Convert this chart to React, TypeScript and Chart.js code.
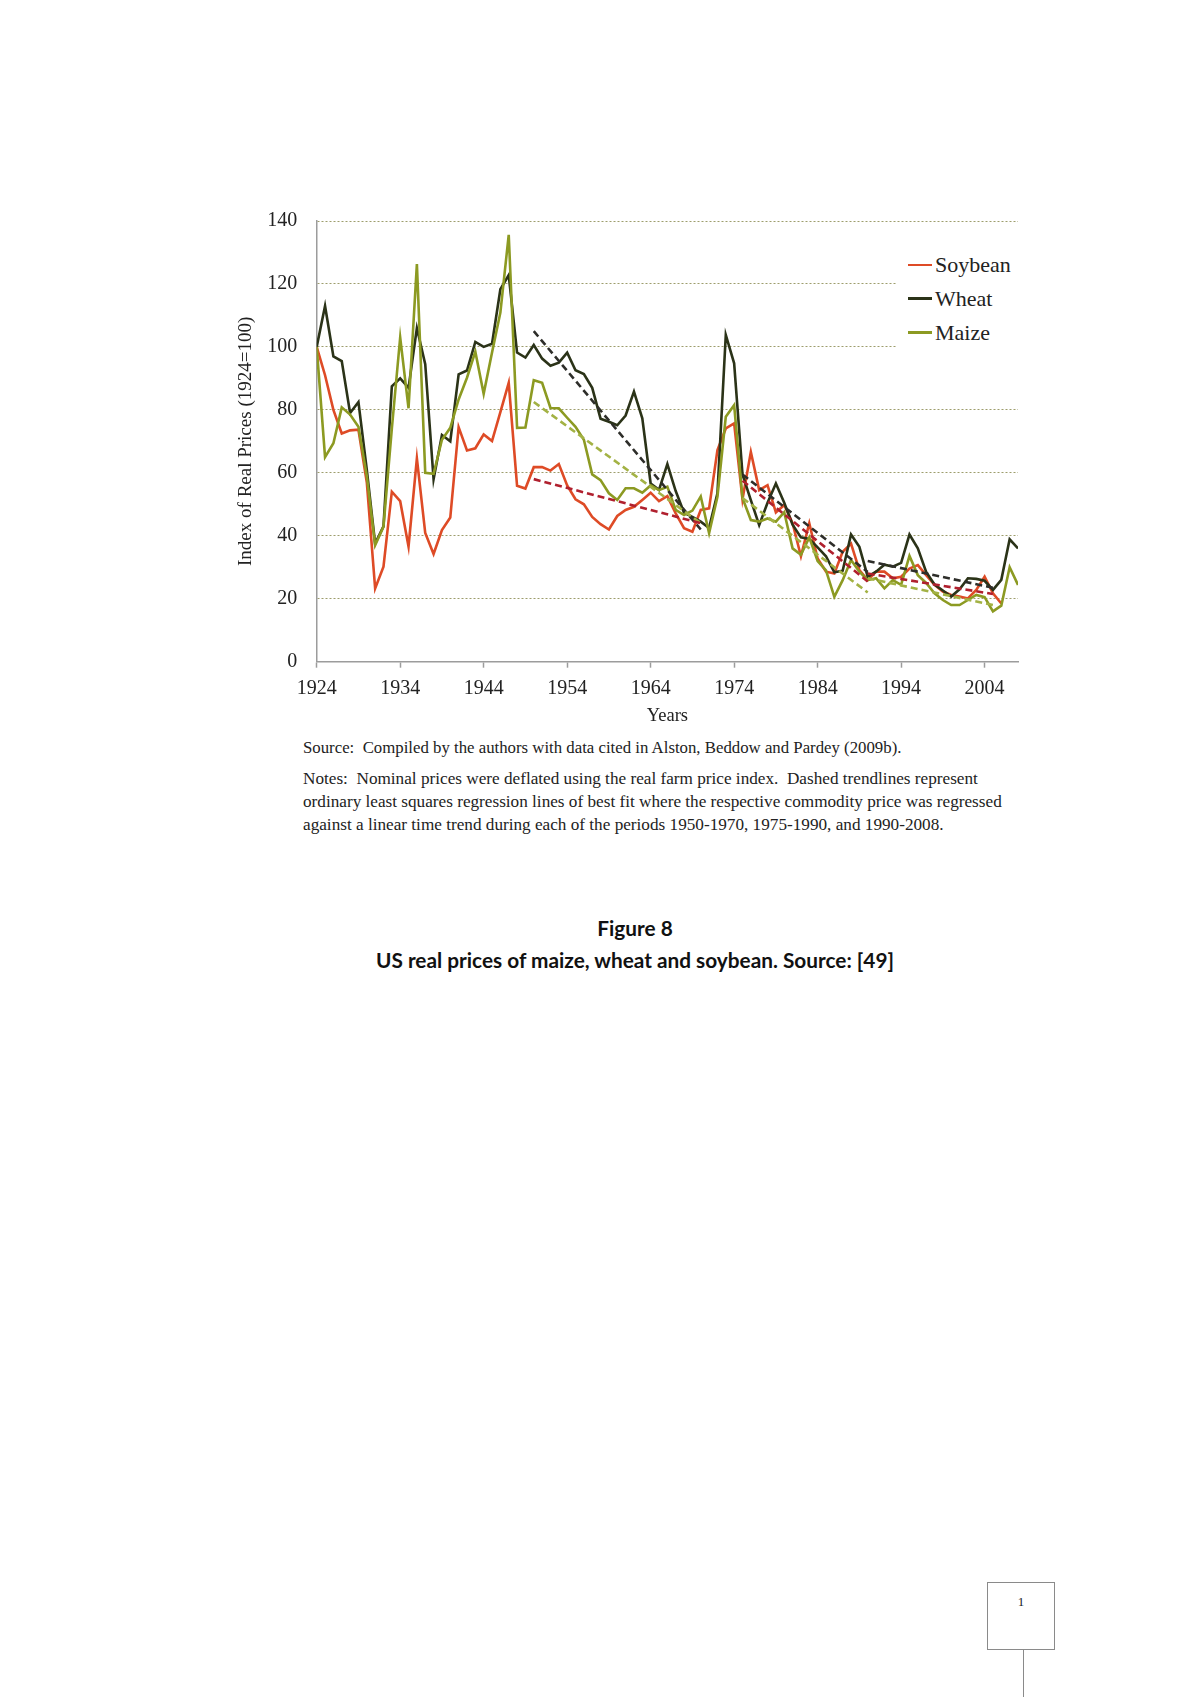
import React, { useEffect, useRef } from 'react';
import { Chart, registerables } from 'chart.js';

Chart.register(...registerables);

// ---- Data ----
const YEARS = [
  1924, 1925, 1926, 1927, 1928, 1929, 1930, 1931, 1932, 1933,
  1934, 1935, 1936, 1937, 1938, 1939, 1940, 1941, 1942, 1943,
  1944, 1945, 1946, 1947, 1948, 1949, 1950, 1951, 1952, 1953,
  1954, 1955, 1956, 1957, 1958, 1959, 1960, 1961, 1962, 1963,
  1964, 1965, 1966, 1967, 1968, 1969, 1970, 1971, 1972, 1973,
  1974, 1975, 1976, 1977, 1978, 1979, 1980, 1981, 1982, 1983,
  1984, 1985, 1986, 1987, 1988, 1989, 1990, 1991, 1992, 1993,
  1994, 1995, 1996, 1997, 1998, 1999, 2000, 2001, 2002, 2003,
  2004, 2005, 2006, 2007, 2008,
];

const SOYBEAN = [
  100, 91, 80, 72.5, 73.5, 73.7, 57, 23.3, 30.2, 54,
  51, 36.6, 64.6, 40.9, 34.2, 41.8, 45.8, 74.5, 67.1, 67.8,
  72.2, 70.1, 79.3, 88.6, 55.9, 55, 61.8, 61.8, 60.7, 62.8,
  56, 51.6, 50, 46, 43.7, 42, 46.3, 48.2, 49.2, 51.4,
  53.7, 51, 52.6, 47.1, 42.4, 41.3, 48.2, 48.7, 67.2, 74.1,
  75.7, 51.6, 66.6, 54.5, 56.1, 47.4, 49.8, 44, 33.5, 44,
  32.8, 28.6, 28, 34.9, 37.5, 29.1, 25.9, 28.6, 28.6, 26.5,
  27, 29.6, 30.7, 27.5, 24.4, 22.3, 21.2, 20.7, 20.1, 22.8,
  27, 21.7, 18.5, null, null,
];

const WHEAT = [
  100, 113, 97, 95.5, 79, 82.5, 61, 37.5, 43, 87.5,
  90, 87, 106, 94.5, 58, 72, 70, 91.3, 92.5, 101.6,
  100, 101, 118.3, 122.8, 98.2, 96.6, 100.6, 96.3, 94, 95,
  98.2, 92.6, 91.4, 87, 77.2, 76.2, 75.1, 78.2, 85.8, 77.3,
  56.6, 54.6, 62.8, 54.2, 47.3, 46, 44.5, 42.5, 53.5, 103.8,
  94.8, 59.5, 51.3, 43.4, 50.5, 56.6, 50.5, 43.5, 39.5, 39,
  36.3, 33.5, 28.4, 28.9, 40.4, 36.5, 27, 28.6, 30.8, 30.2,
  31.4, 40.4, 36, 28.5, 24.5, 22.6, 20.7, 23, 26.5, 26.3,
  25.7, 22.8, 26, 38.9, 36,
];

const MAIZE = [
  100, 65, 69.4, 80.8, 78.5, 74.6, 59, 37, 42.9, 74,
  103, 80.5, 126.3, 60, 59.7, 70.5, 74.3, 83.3, 90.2, 98.5,
  85.1, 98.2, 110.9, 135.6, 74.3, 74.4, 89.4, 88.6, 80.6, 80.5,
  77.5, 74.6, 70.5, 59.5, 57.7, 53.5, 51.4, 55.1, 55.1, 53.7,
  56, 54.5, 55.6, 48.2, 46.6, 48, 52.5, 40.8, 52.4, 77.8,
  81.5, 52, 45, 44.5, 45.5, 44.5, 47.5, 36, 34, 39.5,
  32, 29, 20.6, 25.9, 32.3, 28.6, 25.9, 26.5, 23.3, 25.9,
  24.4, 33.6, 27.5, 25, 21.7, 19.6, 18, 18, 19.6, 21.2,
  20.5, 16, 17.8, 30, 24.4,
];

// Dashed OLS trendlines: [start, end] values for each period
const TREND_PERIODS = [
  [1950, 1970],
  [1975, 1990],
  [1990, 2005],
];
const SOYBEAN_TREND = [
  [58, 44],
  [57.5, 25.5],
  [28, 21.5],
];
const WHEAT_TREND = [
  [105, 42],
  [59.5, 28.5],
  [32, 23.5],
];
const MAIZE_TREND = [
  [82.5, 44],
  [52, 22],
  [26.5, 18],
];

const X_TICKS = [1924, 1934, 1944, 1954, 1964, 1974, 1984, 1994, 2004];
const Y_TICKS = [0, 20, 40, 60, 80, 100, 120, 140];

const SERIES_NAMES = ['Soybean', 'Wheat', 'Maize'];
const SERIES_COLORS = ['#de4b26', '#2b3318', '#8c9a22'];
const TREND_COLORS = ['#b0202e', '#2e2e2a', '#a3b244'];

const SERIF = "'Liberation Serif', 'Times New Roman', serif";

export default function App() {
  const canvasRef = useRef<HTMLCanvasElement | null>(null);

  useEffect(() => {
    const canvas = canvasRef.current;
    if (!canvas) return;

    const series = (vals: (number | null)[]) => YEARS.map((x, i) => ({ x, y: vals[i] }));
    const trend = (ends: number[][]) => {
      const pts: { x: number; y: number | null }[] = [];
      TREND_PERIODS.forEach(([a, b], i) => {
        if (i > 0) pts.push({ x: a, y: null });
        pts.push({ x: a, y: ends[i][0] });
        pts.push({ x: b, y: ends[i][1] });
      });
      return pts;
    };

    const axisGray = '#9c9c9c';
    const textColor = '#222222';

    const chart = new Chart(canvas, {
      type: 'line',
      data: {
        datasets: [
          {
            label: SERIES_NAMES[0] + ' trend',
            data: trend(SOYBEAN_TREND),
            borderColor: TREND_COLORS[0],
            borderWidth: 2.6,
            borderDash: [7, 4],
            spanGaps: false,
            order: 0,
          },
          {
            label: SERIES_NAMES[2] + ' trend',
            data: trend(MAIZE_TREND),
            borderColor: TREND_COLORS[2],
            borderWidth: 2.6,
            borderDash: [7, 4],
            spanGaps: false,
            order: 0,
          },
          {
            label: SERIES_NAMES[1] + ' trend',
            data: trend(WHEAT_TREND),
            borderColor: TREND_COLORS[1],
            borderWidth: 2.6,
            borderDash: [7, 4],
            spanGaps: false,
            order: 0,
          },
          {
            label: SERIES_NAMES[2],
            data: series(MAIZE),
            borderColor: SERIES_COLORS[2],
            borderWidth: 2.6,
            order: 1,
          },
          {
            label: SERIES_NAMES[1],
            data: series(WHEAT),
            borderColor: SERIES_COLORS[1],
            borderWidth: 2.6,
            order: 2,
          },
          {
            label: SERIES_NAMES[0],
            data: series(SOYBEAN),
            borderColor: SERIES_COLORS[0],
            borderWidth: 2.6,
            spanGaps: false,
            order: 3,
          },
        ],
      },
      options: {
        animation: false,
        responsive: false,
        maintainAspectRatio: false,
        devicePixelRatio: 1,
        layout: { padding: { top: 21, right: 7, bottom: 0, left: 0 } },
        elements: {
          point: { radius: 0, hoverRadius: 0 },
          line: { tension: 0, fill: false, borderCapStyle: 'butt', borderJoinStyle: 'miter' },
        },
        plugins: {
          legend: { display: false },
          tooltip: { enabled: false },
        },
        scales: {
          x: {
            type: 'linear',
            min: 1924,
            max: 2008,
            afterBuildTicks: (s: any) => {
              s.ticks = X_TICKS.map((v) => ({ value: v }));
            },
            afterFit: (s: any) => {
              s.height = 68.3;
            },
            ticks: {
              callback: (v: any) => String(v),
              font: { family: SERIF, size: 20 },
              color: textColor,
              padding: 9,
              maxRotation: 0,
              autoSkip: false,
            },
            grid: {
              drawOnChartArea: false,
              drawTicks: true,
              tickLength: 6,
              tickColor: axisGray,
              tickWidth: 1.5,
            },
            border: { color: axisGray, width: 1.5 },
            title: {
              display: true,
              text: 'Years',
              font: { family: SERIF, size: 18.5 },
              color: textColor,
              padding: { top: 0, bottom: 3 },
            },
          },
          y: {
            type: 'linear',
            min: 0,
            max: 140,
            afterBuildTicks: (s: any) => {
              s.ticks = Y_TICKS.map((v) => ({ value: v }));
            },
            afterFit: (s: any) => {
              s.width = 91.7;
            },
            ticks: {
              callback: (v: any) => String(v),
              font: { family: SERIF, size: 20 },
              color: textColor,
              padding: 5.5,
            },
            grid: {
              drawTicks: true,
              tickLength: 14,
              tickColor: 'rgba(0,0,0,0)',
              color: (c: any) => (c.tick && c.tick.value === 0 ? 'rgba(0,0,0,0)' : '#9d9d6c'),
              lineWidth: 1,
            },
            border: { color: axisGray, width: 1.5, dash: [2, 2] },
            title: {
              display: true,
              text: 'Index of Real Prices (1924=100)',
              font: { family: SERIF, size: 19 },
              color: textColor,
              padding: { top: 10, bottom: 0 },
            },
          },
        },
      },
    } as any);

    return () => chart.destroy();
  }, []);

  const legendRows = [265, 298.5, 332.5];

  const noteStyle: React.CSSProperties = {
    position: 'absolute',
    left: 303,
    fontFamily: SERIF,
    fontSize: 17.2,
    lineHeight: '22px',
    color: '#222',
    whiteSpace: 'pre',
  };

  return (
    <div
      style={{
        position: 'absolute',
        left: 0,
        top: 0,
        width: 1200,
        height: 1697,
        overflow: 'hidden',
        background: '#ffffff',
      }}
    >
      <canvas
        ref={canvasRef}
        width={800}
        height={530}
        style={{ position: 'absolute', left: 225, top: 200, width: 800, height: 530 }}
      />

      {/* Legend box (covers gridlines behind it) */}
      <div
        style={{
          position: 'absolute',
          left: 897,
          top: 240,
          width: 125,
          height: 158,
          background: '#ffffff',
        }}
      />
      {SERIES_NAMES.map((name, i) => (
        <React.Fragment key={name}>
          <div
            style={{
              position: 'absolute',
              left: 908,
              top: legendRows[i] - 1.3,
              width: 24,
              height: 2.6,
              background: SERIES_COLORS[i],
            }}
          />
          <div
            style={{
              position: 'absolute',
              left: 935,
              top: legendRows[i] - 13,
              fontFamily: SERIF,
              fontSize: 22,
              lineHeight: '26px',
              color: '#222',
              whiteSpace: 'pre',
            }}
          >
            {name}
          </div>
        </React.Fragment>
      ))}

      <div style={{ ...noteStyle, top: 736.7, fontSize: 16.8 }}>
        {'Source:  Compiled by the authors with data cited in Alston, Beddow and Pardey (2009b).'}
      </div>
      <div style={{ ...noteStyle, top: 768 }}>
        {'Notes:  Nominal prices were deflated using the real farm price index.  Dashed trendlines represent'}
      </div>
      <div style={{ ...noteStyle, top: 790.8 }}>
        {'ordinary least squares regression lines of best fit where the respective commodity price was regressed'}
      </div>
      <div style={{ ...noteStyle, top: 813.5 }}>
        {'against a linear time trend during each of the periods 1950-1970, 1975-1990, and 1990-2008.'}
      </div>

      <div
        style={{
          position: 'absolute',
          left: 335,
          width: 600,
          top: 912,
          textAlign: 'center',
          fontFamily: "Lato, 'Noto Sans', sans-serif",
          fontWeight: 700,
          fontSize: 20.8,
          lineHeight: '32px',
          color: '#111',
        }}
      >
        <div>Figure 8</div>
        <div>US real prices of maize, wheat and soybean. Source: [49]</div>
      </div>

      {/* Page number box */}
      <div
        style={{
          position: 'absolute',
          left: 987,
          top: 1582,
          width: 68,
          height: 68,
          border: '1.5px solid #8a8a8a',
          boxSizing: 'border-box',
        }}
      >
        <div
          style={{
            position: 'absolute',
            left: 0,
            width: '100%',
            top: 11,
            textAlign: 'center',
            fontFamily: SERIF,
            fontSize: 13,
            lineHeight: '16px',
            color: '#222',
          }}
        >
          1
        </div>
      </div>
      <div
        style={{
          position: 'absolute',
          left: 1022.5,
          top: 1650,
          width: 1.5,
          height: 47,
          background: '#8a8a8a',
        }}
      />
    </div>
  );
}
